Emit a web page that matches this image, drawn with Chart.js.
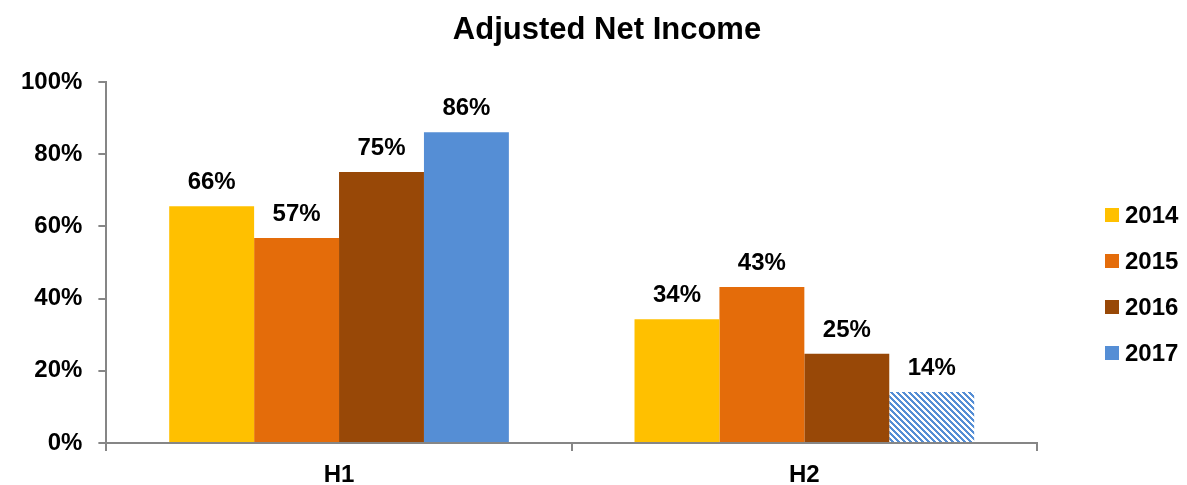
<!DOCTYPE html>
<html>
<head>
<meta charset="utf-8">
<script src="https://cdn.jsdelivr.net/npm/chart.js@4"></script>
<style>
  html, body { margin: 0; padding: 0; background: #fff; }
  #wrap { width: 1187px; height: 485px; }
</style>
</head>
<body>
<div id="wrap"><canvas id="incomeChart"></canvas></div>
<script>
const categories = ['H1', 'H2'];
const years = ['2014', '2015', '2016', '2017'];
const values2014 = [65.6, 34.3];
const values2015 = [56.8, 43.2];
const values2016 = [75.1, 24.7];
const values2017 = [86.1, 14.1];
const yTicks = [0, 20, 40, 60, 80, 100];
const colors = ['#FFC000', '#E46C0A', '#984807', '#558ED5'];

const FONT = "'Liberation Sans', Arial, sans-serif";

// striped fill for the H2 2017 bar
function stripes(color) {
    const c = document.createElement('canvas');
    c.width = 6; c.height = 6;
    const ctx = c.getContext('2d');
    ctx.fillStyle = '#fff';
    ctx.fillRect(0, 0, 6, 6);
    ctx.fillStyle = color;
    for (let y = 0; y < 6; y++) {
        for (let x = 0; x < 6; x++) {
            if ((((x - y) % 6) + 6) % 6 < 3) ctx.fillRect(x, y, 1, 1);
        }
    }
    return ctx.createPattern(c, 'repeat');
}

const barLabels = {
    id: 'barLabels',
    afterDatasetsDraw(chart) {
        const ctx = chart.ctx;
        ctx.save();
        ctx.font = 'bold 24px ' + FONT;
        ctx.fillStyle = '#000';
        ctx.textAlign = 'center';
        ctx.textBaseline = 'alphabetic';
        chart.data.datasets.forEach((ds, i) => {
            chart.getDatasetMeta(i).data.forEach((bar, j) => {
                ctx.fillText(Math.round(ds.data[j]) + '%', bar.x, bar.y - 17);
            });
        });
        ctx.restore();
    }
};

const titleAndLegend = {
    id: 'titleAndLegend',
    afterDraw(chart) {
        const ctx = chart.ctx;
        ctx.save();
        ctx.fillStyle = '#000';
        ctx.font = 'bold 31px ' + FONT;
        ctx.textAlign = 'center';
        ctx.textBaseline = 'alphabetic';
        ctx.fillText('Adjusted Net Income', 607, 39);

        ctx.font = 'bold 24px ' + FONT;
        ctx.textAlign = 'left';
        ctx.textBaseline = 'middle';
        years.forEach((y, i) => {
            const cy = 215 + i * 46;
            ctx.fillStyle = colors[i];
            ctx.fillRect(1105, cy - 7, 14, 14);
            ctx.fillStyle = '#000';
            ctx.fillText(y, 1125, cy + 1);
        });
        ctx.restore();
    }
};

new Chart(document.getElementById('incomeChart'), {
    type: 'bar',
    data: {
        labels: categories,
        datasets: [
            { label: years[0], data: values2014, backgroundColor: colors[0] },
            { label: years[1], data: values2015, backgroundColor: colors[1] },
            { label: years[2], data: values2016, backgroundColor: colors[2] },
            { label: years[3], data: values2017, backgroundColor: [colors[3], stripes(colors[3])] }
        ]
    },
    options: {
        responsive: true,
        maintainAspectRatio: false,
        animation: false,
        datasets: {
            bar: { categoryPercentage: 0.73, barPercentage: 1, borderWidth: 0 }
        },
        layout: {
            padding: { left: 5, right: 150, top: 82, bottom: 0 }
        },
        plugins: {
            legend: { display: false },
            title: { display: false },
            tooltip: { enabled: false }
        },
        scales: {
            x: {
                afterFit(axis) { axis.height = 42; },
                grid: { drawOnChartArea: false, tickLength: 8, color: '#868686', lineWidth: 2 },
                border: { color: '#868686', width: 2 },
                ticks: { color: '#000', font: { family: FONT, size: 24, weight: 'bold' }, padding: 10 }
            },
            y: {
                min: 0,
                max: 100,
                afterBuildTicks(axis) {
                    axis.ticks = yTicks.map(v => ({ value: v }));
                },
                grid: { drawOnChartArea: false, tickLength: 8, color: '#868686', lineWidth: 2 },
                border: { color: '#868686', width: 2 },
                ticks: {
                    color: '#000',
                    font: { family: FONT, size: 24, weight: 'bold' },
                    padding: 16,
                    callback: v => v + '%'
                }
            }
        }
    },
    plugins: [barLabels, titleAndLegend]
});
</script>
</body>
</html>
